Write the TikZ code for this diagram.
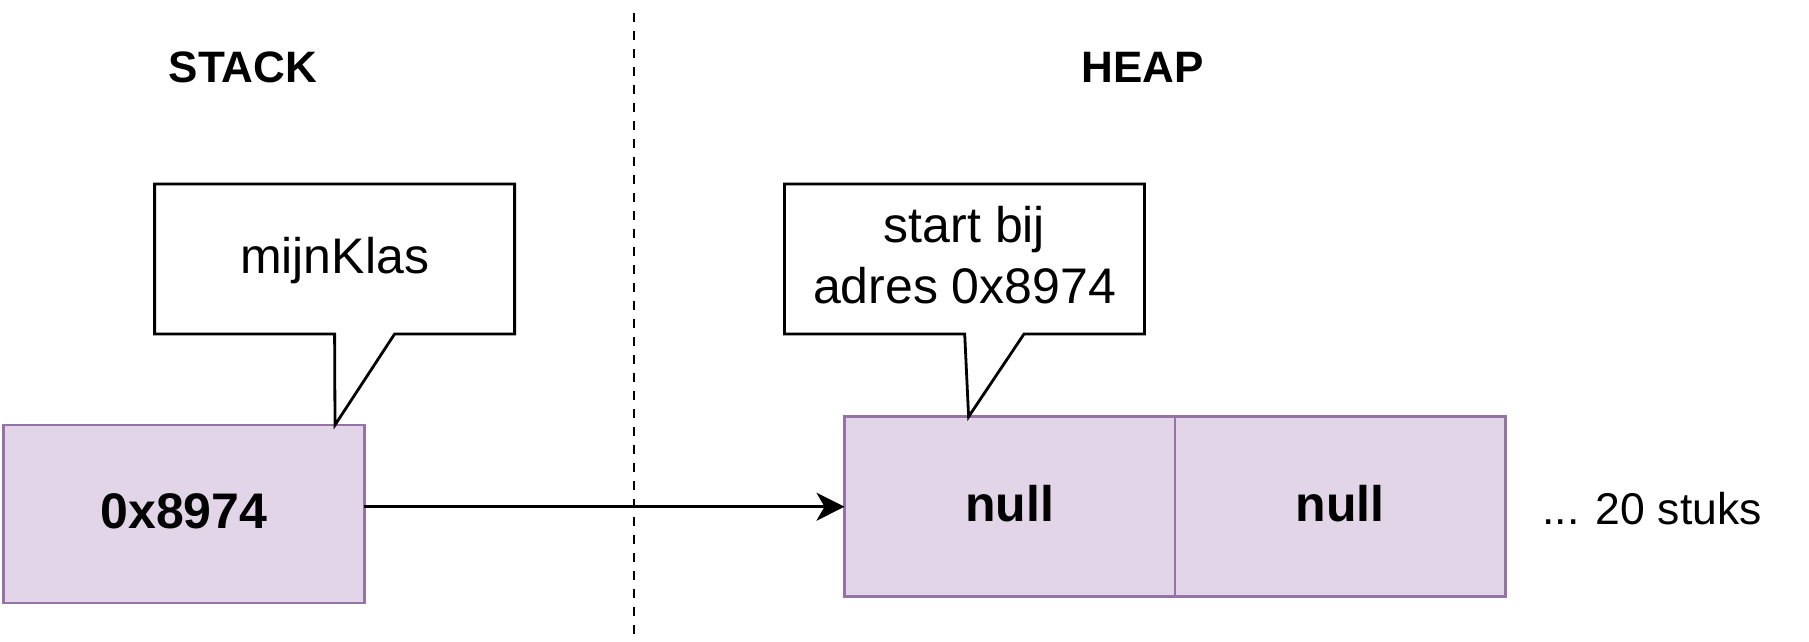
\documentclass[tikz,border=0pt]{standalone}
\usepackage{fontspec}
\setmainfont{Liberation Sans}
\usetikzlibrary{arrows.meta,calc}
\definecolor{boxfill}{HTML}{E1D5E7}
\definecolor{boxdraw}{HTML}{9673A6}
\begin{document}
\begin{tikzpicture}[x=1pt,y=-1pt,
  cellbox/.style={draw=boxdraw, fill=boxfill, line width=2.6pt, inner sep=0pt, outer sep=0pt,
    font=\bfseries\fontsize{50}{60}\selectfont, text height=36pt, text depth=0pt},
  calloutline/.style={draw=black, fill=white, line width=2.8pt, line join=miter},
  plaintext/.style={inner sep=0pt, font=\fontsize{50}{61}\selectfont, text height=36pt, text depth=0pt},
  headtext/.style={inner sep=0pt, font=\bfseries\fontsize{44}{53}\selectfont, text height=32pt, text depth=0pt},
  conn/.style={line width=2.6pt, -{Stealth[length=28pt,width=28pt,inset=8pt]}}]
\useasboundingbox (0,0) rectangle (1809,642);

% divider
\draw[line width=2.7pt, dash pattern=on 9pt off 9pt] (634,13) -- (634,642);

% headings
\node[headtext] (stackhead) at (243,66) {STACK};
\node[headtext] (heaphead) at (1142.5,66) {HEAP};

% boxes
\node[cellbox, minimum width=360.7pt, minimum height=178pt] (stack) at (184,514) {\raisebox{4pt}{0x8974}};
\node[cellbox, minimum width=330.5pt, minimum height=180pt] (null1) at (1009.75,506.7) {\raisebox{3.5pt}{null}};
\node[cellbox, minimum width=330.5pt, minimum height=180pt, anchor=west] (null2) at (null1.east) {\raisebox{3.5pt}{null}};

% callouts
\draw[calloutline] (154.6,184) -- (514.6,184) -- (514.6,334) -- (394.6,334)
  -- (335,425) -- (334.6,334) -- (154.6,334) -- cycle;
\node[plaintext] (c1) at (334.6,255) {mijnKlas};

\draw[calloutline] (784.5,184) -- (1144.5,184) -- (1144.5,334) -- (1024,334)
  -- (968.6,416.7) -- (964.7,334) -- (784.5,334) -- cycle;
\node[inner sep=0pt, align=center, font=\fontsize{50}{61}\selectfont] (c2) at (964.5,255.5) {start bij\\adres 0x8974};

% trailing label
\node[plaintext, font=\fontsize{44.5}{53}\selectfont, text height=32pt] (more) at (1652,508) {... 20 stuks};

% connector
\draw[conn] (stack.east |- null1.west) -- (null1.west);
\end{tikzpicture}
\end{document}
